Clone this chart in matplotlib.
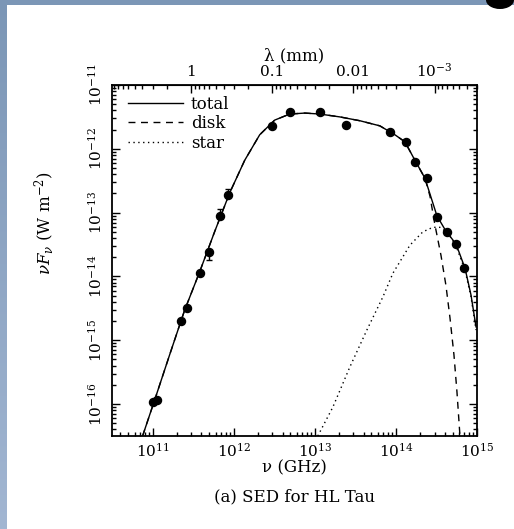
import numpy as np
import matplotlib.pyplot as plt
from matplotlib.patches import Rectangle, Ellipse
from matplotlib.colors import LinearSegmentedColormap
from matplotlib.ticker import LogLocator, NullFormatter, FixedLocator, FixedFormatter

# ======== data (log10 of nu [Hz] and nuF_nu [W m^-2]) ========
obs_lognu = [11.00, 11.05, 11.35, 11.42, 11.58, 11.70, 11.83, 11.93, 12.47, 12.69,
             13.07, 13.39, 13.93, 14.12, 14.24, 14.38, 14.51, 14.63, 14.74, 14.84]
obs_logf = [-15.96, -15.94, -14.70, -14.49, -13.95, -13.62, -13.05, -12.73, -11.64, -11.43,
            -11.43, -11.63, -11.74, -11.90, -12.20, -12.46, -13.07, -13.30, -13.49, -13.87]
# error bars (dex), only a few points have visible ones
obs_err_lo = [0, 0, 0, 0, 0, 0.12, 0, 0, 0, 0, 0, 0, 0, 0, 0, 0, 0, 0, 0, 0]
obs_err_hi = [0, 0, 0, 0, 0, 0, 0.10, 0.10, 0, 0, 0, 0, 0, 0, 0, 0, 0, 0, 0, 0]

total_lognu = [10.877, 11.025, 11.210, 11.395, 11.580, 11.765, 11.951, 12.136, 12.321, 12.506,
               12.691, 12.877, 13.062, 13.309, 13.556, 13.802, 13.988, 14.111, 14.235, 14.358,
               14.506, 14.617, 14.741, 14.852, 14.926, 14.988]
total_logf = [-16.50, -15.94, -15.23, -14.53, -13.93, -13.30, -12.69, -12.18, -11.78, -11.55,
              -11.455, -11.44, -11.455, -11.50, -11.56, -11.64, -11.78, -11.89, -12.18, -12.46,
              -13.05, -13.29, -13.49, -13.87, -14.29, -14.79]

disk_lognu = [10.877, 11.025, 11.210, 11.395, 11.580, 11.765, 11.951, 12.136, 12.321, 12.506,
              12.691, 12.877, 13.062, 13.309, 13.556, 13.802, 13.988, 14.111, 14.235, 14.358,
              14.420, 14.481, 14.556, 14.617, 14.667, 14.716, 14.753, 14.790]
disk_logf = [-16.50, -15.94, -15.23, -14.53, -13.93, -13.30, -12.69, -12.18, -11.78, -11.55,
             -11.455, -11.44, -11.455, -11.50, -11.56, -11.64, -11.78, -11.89, -12.18, -12.46,
             -12.74, -13.19, -13.67, -14.14, -14.65, -15.23, -15.81, -16.50]

star_lognu = [13.037, 13.222, 13.432, 13.642, 13.840, 13.963, 14.173, 14.333, 14.457, 14.543,
              14.642, 14.741, 14.852, 14.926, 14.988]
star_logf = [-16.50, -16.05, -15.42, -14.84, -14.32, -13.95, -13.51, -13.30, -13.23, -13.23,
             -13.32, -13.52, -13.90, -14.32, -14.84]

nu_ticks = [1e11, 1e12, 1e13, 1e14, 1e15]
f_ticks = [1e-16, 1e-15, 1e-14, 1e-13, 1e-12, 1e-11]
lam_ticks = [1, 0.1, 0.01, 1e-3]
lam_labels = ['1', '0.1', '0.01', r'$10^{-3}$']

# ======== style ========
plt.rcParams['font.family'] = 'DejaVu Serif'
plt.rcParams['mathtext.fontset'] = 'dejavuserif'

W, H = 514, 529
fig = plt.figure(figsize=(W / 100, H / 100), dpi=100)
fig.patch.set_facecolor('white')

# slide background strips
grad = fig.add_axes([0, 0, 7 / W, 1])
grad.imshow(np.linspace(0, 1, 256)[:, None], aspect='auto',
            cmap=LinearSegmentedColormap.from_list('bg', ['#7b96b6', '#a2b6d2']),
            extent=[0, 1, 0, 1], origin='upper')
grad.set_axis_off()
fig.patches.append(Rectangle((0, 1 - 5 / H), 1, 5 / H, transform=fig.transFigure,
                             facecolor='#7b96b6', edgecolor='none', zorder=0))
fig.patches.append(Ellipse((500 / W, 1), 28 / W, 18 / H, transform=fig.transFigure,
                           facecolor='black', edgecolor='none', zorder=1))

# ======== main axes ========
ax = fig.add_axes([112 / W, (H - 436) / H, 365 / W, 351 / H])
to_lin = lambda a: 10 ** np.array(a)

ax.plot(to_lin(total_lognu), to_lin(total_logf), 'k-', lw=1.0, label='total')
ax.plot(to_lin(disk_lognu), to_lin(disk_logf), 'k--', lw=1.0, dashes=(5, 4), label='disk')
ax.plot(to_lin(star_lognu), to_lin(star_logf), 'k:', lw=1.0, dashes=(1, 2.5), label='star')

f_obs = to_lin(obs_logf)
yerr = [f_obs - f_obs * 10 ** -np.array(obs_err_lo), f_obs * 10 ** np.array(obs_err_hi) - f_obs]
ax.errorbar(to_lin(obs_lognu), f_obs, yerr=yerr, fmt='o', color='black', ms=5.8,
            elinewidth=1.0, capsize=2.5, capthick=1.0)

ax.set_xscale('log')
ax.set_yscale('log')
ax.set_xlim(10 ** 10.5, 1e15)
ax.set_ylim(10 ** -16.5, 1e-11)

ax.xaxis.set_major_locator(FixedLocator(nu_ticks))
ax.yaxis.set_major_locator(FixedLocator(f_ticks))
ax.xaxis.set_minor_locator(LogLocator(base=10, subs=np.arange(2, 10), numticks=20))
ax.yaxis.set_minor_locator(LogLocator(base=10, subs=np.arange(2, 10), numticks=20))
ax.xaxis.set_minor_formatter(NullFormatter())
ax.yaxis.set_minor_formatter(NullFormatter())

ax.tick_params(which='both', direction='in', right=True, top=False, width=1.0)
ax.tick_params(which='major', length=6, labelsize=11)
ax.tick_params(which='minor', length=3)
ax.tick_params(axis='x', pad=4)
ax.tick_params(axis='y', pad=5, labelrotation=90)
for lab in ax.get_yticklabels():
    lab.set_va('center')
for sp in ax.spines.values():
    sp.set_linewidth(1.3)

# top axis: wavelength in mm
sec = ax.secondary_xaxis('top', functions=(lambda nu: 3e11 / nu, lambda lam: 3e11 / lam))
sec.xaxis.set_major_locator(FixedLocator(lam_ticks))
sec.xaxis.set_major_formatter(FixedFormatter(lam_labels))
sec.xaxis.set_minor_locator(LogLocator(base=10, subs=np.arange(2, 10), numticks=20))
sec.xaxis.set_minor_formatter(NullFormatter())
sec.tick_params(which='both', direction='in', width=1.0)
sec.tick_params(which='major', length=6, labelsize=11, pad=4)
sec.tick_params(which='minor', length=3)
sec.set_xlabel('λ (mm)', fontsize=12, labelpad=1)

ax.set_xlabel('ν (GHz)', fontsize=12, labelpad=0)
fig.text(45 / W, 1 - 223 / H, r'$\nu F_\nu$ (W m$^{-2}$)', rotation=90, ha='center', va='center',
         fontsize=12)
fig.text(295 / W, 1 - 497 / H, '(a) SED for HL Tau', ha='center', va='center', fontsize=12)

ax.legend(loc='upper left', bbox_to_anchor=(0.045, 0.97), frameon=False, fontsize=12,
          handlelength=3.3, handletextpad=0.45, labelspacing=0.15, borderaxespad=0,
          borderpad=0)

plt.savefig('out.png', dpi=100)
